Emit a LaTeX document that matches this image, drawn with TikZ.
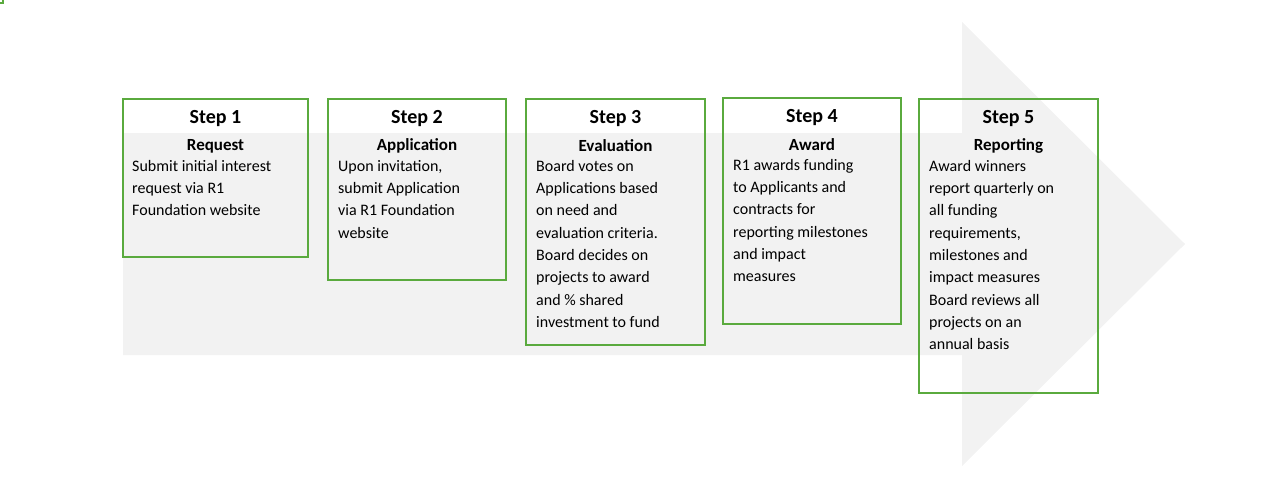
\documentclass[tikz,border=0pt]{standalone}
\usepackage{fontspec}
\setmainfont{Carlito}
\definecolor{bgarrow}{HTML}{F2F2F2}
\definecolor{gbox}{HTML}{5AAA3E}
\begin{document}
\begin{tikzpicture}[x=1pt,y=-1pt,
  stepbox/.style={draw=gbox,line width=2.2pt},
  ttl/.style={font=\fontsize{20}{24}\selectfont\bfseries,anchor=center},
  sub/.style={font=\fontsize{17}{20}\selectfont\bfseries,anchor=center},
  body/.style={font=\fontsize{16}{22.3}\selectfont,anchor=north west,align=left,inner sep=0pt}]
\useasboundingbox (0,0) rectangle (1280,480);
\fill[bgarrow] (123,133) -- (962,133) -- (962,22) -- (1185,244) -- (962,466) -- (962,355) -- (123,355) -- cycle;
\node[stepbox,minimum width=0pt] (b1) at (0,0) {}; 
\draw[stepbox] (123,99) rectangle (308,257);
\draw[stepbox] (328,99) rectangle (506,280);
\draw[stepbox] (526,99) rectangle (705,345);
\draw[stepbox] (723,98) rectangle (901,324);
\draw[stepbox] (919,99) rectangle (1098,393);
\node[ttl] (t1) at (215.5,119) {Step 1};
\node[sub] (s1) at (215.5,146) {Request};
\node[body] (x1) at (132,160) {Submit initial interest\\request via R1\\Foundation website};
\node[ttl] (t2) at (417,119) {Step 2};
\node[sub] (s2) at (417,146) {Application};
\node[body] (x2) at (338,160) {Upon invitation,\\submit Application\\via R1 Foundation\\website};
\node[ttl] (t3) at (615.5,119) {Step 3};
\node[sub] (s3) at (615.5,146) {Evaluation};
\node[body] (x3) at (536,160) {Board votes on\\Applications based\\on need and\\evaluation criteria.\\Board decides on\\projects to award\\and \% shared\\investment to fund};
\node[ttl] (t4) at (812,118) {Step 4};
\node[sub] (s4) at (812,145) {Award};
\node[body] (x4) at (733,159) {R1 awards funding\\to Applicants and\\contracts for\\reporting milestones\\and impact\\measures};
\node[ttl] (t5) at (1008.5,119) {Step 5};
\node[sub] (s5) at (1008.5,146) {Reporting};
\node[body] (x5) at (929,160) {Award winners\\report quarterly on\\all funding\\requirements,\\milestones and\\impact measures\\Board reviews all\\projects on an\\annual basis};
\end{tikzpicture}
\end{document}
